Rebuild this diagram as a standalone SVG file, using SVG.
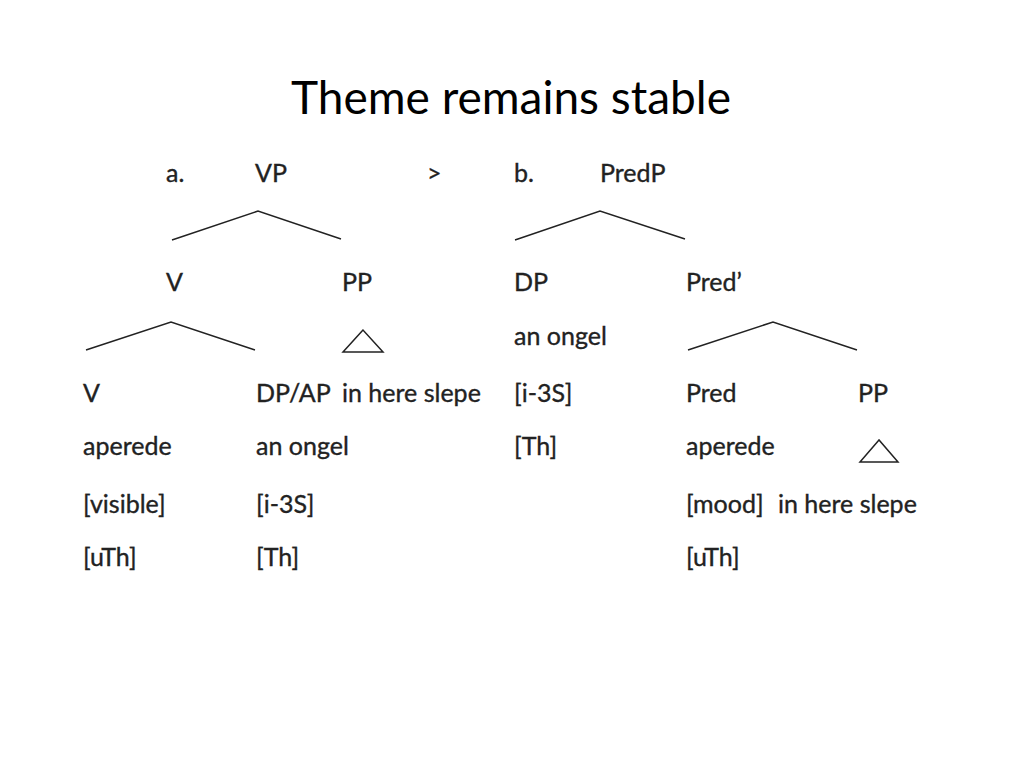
<svg xmlns="http://www.w3.org/2000/svg" width="1024" height="768" viewBox="0 0 1024 768">
<style>
text{font-family:Lato,"Open Sans","Liberation Sans",sans-serif;fill:#222}
.t{font-size:25px;stroke:#222;stroke-width:0.35}
.h{font-size:46px;fill:#000}
line,polygon{stroke:#222;stroke-width:1.5;fill:none}
</style>
<rect width="1024" height="768" fill="#fff"/>
<text class="h" x="511" y="114" text-anchor="middle">Theme remains stable</text>
<g id="labels">
<text class="t" x="166" y="182">a.</text>
<text class="t" x="255" y="182">VP</text>
<text class="t" x="427" y="182">&gt;</text>
<text class="t" x="514" y="182">b.</text>
<text class="t" x="600" y="182">PredP</text>
<text class="t" x="166" y="291">V</text>
<text class="t" x="342" y="291">PP</text>
<text class="t" x="514" y="291">DP</text>
<text class="t" x="686" y="291">Pred’</text>
<text class="t" x="514" y="345">an ongel</text>
<text class="t" x="83" y="402">V</text>
<text class="t" x="256" y="402">DP/AP</text>
<text class="t" x="342" y="402">in here slepe</text>
<text class="t" x="514" y="402">[i-3S]</text>
<text class="t" x="686" y="402">Pred</text>
<text class="t" x="858" y="402">PP</text>
<text class="t" x="83" y="455">aperede</text>
<text class="t" x="256" y="455">an ongel</text>
<text class="t" x="514" y="455">[Th]</text>
<text class="t" x="686" y="455">aperede</text>
<text class="t" x="83" y="513">[visible]</text>
<text class="t" x="256" y="513">[i-3S]</text>
<text class="t" x="686" y="513">[mood]</text>
<text class="t" x="778" y="513">in here slepe</text>
<text class="t" x="83" y="566">[uTh]</text>
<text class="t" x="256" y="566">[Th]</text>
<text class="t" x="686" y="566">[uTh]</text>
</g>
<g id="connectors">
<polyline points="172,240 258,211 341,239" fill="none" stroke="#222" stroke-width="1.5"/>
<polyline points="86,350 171,322 255,350" fill="none" stroke="#222" stroke-width="1.5"/>
<polyline points="515,240 600,211 685,239" fill="none" stroke="#222" stroke-width="1.5"/>
<polyline points="688,350 773,322 857,350" fill="none" stroke="#222" stroke-width="1.5"/>
<polygon points="363,330 343,352 383,352"/>
<polygon points="879,440 860,462 898,462"/>
</g>
</svg>
